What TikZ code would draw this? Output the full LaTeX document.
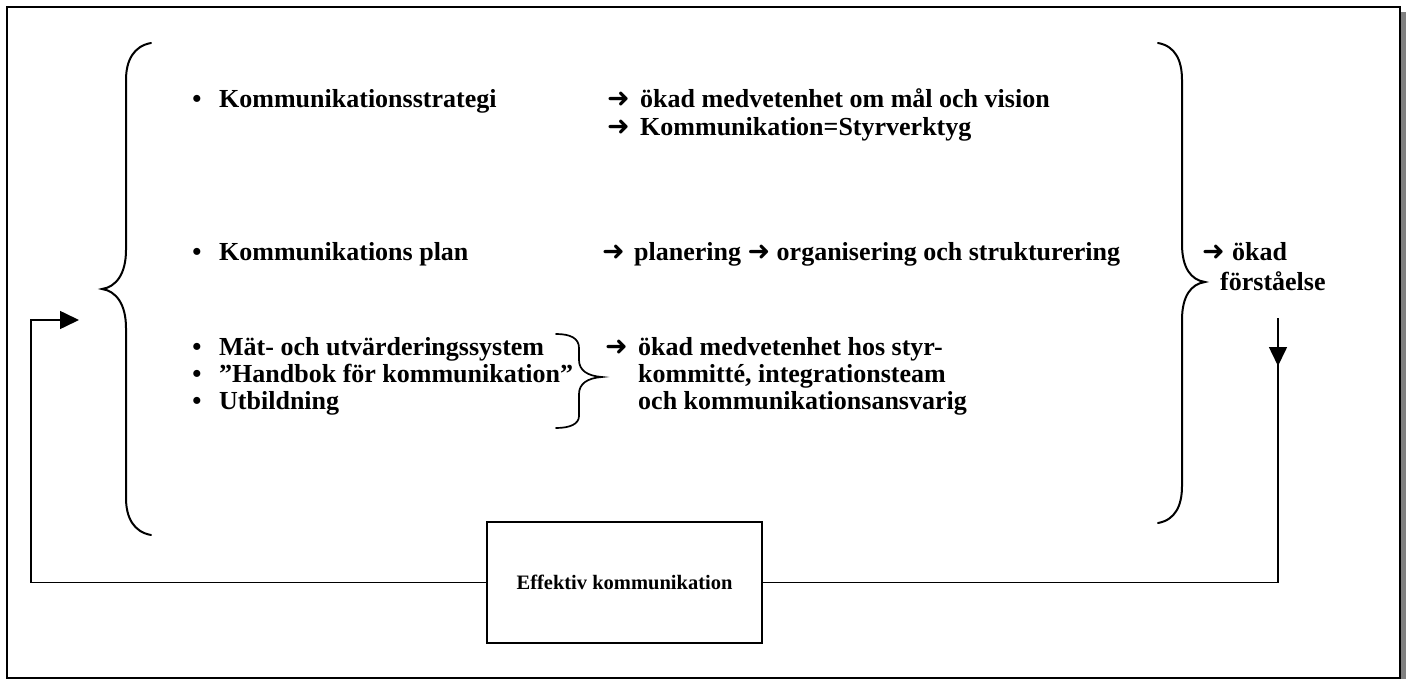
\documentclass[tikz,border=0pt]{standalone}
\usepackage{fontspec}
\setmainfont{Liberation Serif}
\newfontfamily\arrowfont{DejaVu Sans}
\usetikzlibrary{arrows.meta}
\newcommand\rarr{{\arrowfont\fontsize{27}{30}\selectfont ➜}}
\begin{document}
\begin{tikzpicture}[x=1pt,y=-1pt,
  txt/.style={anchor=base west, inner sep=0pt, font=\fontsize{26}{30}\selectfont\bfseries},
  arr/.style={anchor=base west, inner sep=0pt},
  bul/.style={anchor=base, inner sep=0pt, font=\fontsize{26}{30}\selectfont\bfseries},
  brace/.style={line width=2pt, line cap=round},
  conn/.style={line width=1.6pt},
  tip/.style={-{Triangle[length=19pt,width=18pt]}},
  boxstyle/.style={draw, line width=2.4pt, minimum width=275pt, minimum height=121pt,
    inner sep=0pt, font=\fontsize{20.5}{24}\selectfont\bfseries}]
\useasboundingbox (0,0) rectangle (1411,679);
% frame with drop shadow
\fill[black!50] (12,12) rectangle (1406,684);
\draw[line width=2.6pt, fill=white] (7,7) rectangle (1400,678);

% large left brace
\draw[brace] (151,43) .. controls (134,46) and (126,60) .. (126,80)
  -- (126,250) .. controls (126,274) and (116,287) .. (102,289)
  .. controls (116,291) and (126,304) .. (126,328)
  -- (126,498) .. controls (126,518) and (134,532) .. (151,535);
% large right brace
\draw[brace] (1158,43) .. controls (1175,46) and (1182,60) .. (1182,80)
  -- (1182,244) .. controls (1182,268) and (1191,280) .. (1205,282)
  .. controls (1191,284) and (1182,296) .. (1182,320)
  -- (1182,486) .. controls (1182,506) and (1175,520) .. (1158,523);
% small brace grouping the three tools
\draw[brace, line width=1.7pt] (556,334) .. controls (570,334) and (579,338) .. (579,348)
  -- (579,360) .. controls (579,370) and (587,376) .. (602,377)
  .. controls (587,378) and (579,384) .. (579,394)
  -- (579,416) .. controls (579,424) and (570,428) .. (556,428);

% first row
\node[bul] (b1) at (197,108) {•};
\node[txt] (i1) at (219,108) {Kommunikationsstrategi};
\node[arr] (a1a) at (607,108) {\rarr};
\node[txt] (r1a) at (640,108) {ökad medvetenhet om mål och vision};
\node[arr] (a1b) at (607,136) {\rarr};
\node[txt] (r1b) at (640,136) {Kommunikation=Styrverktyg};

% second row
\node[bul] (b2) at (197,261) {•};
\node[txt] (i2) at (219,261) {Kommunikations plan};
\node[arr] (a2) at (602,261) {\rarr};
\node[txt] (r2) at (634,261) {planering \rarr\ organisering och strukturering};

% third row
\node[bul] (b3) at (197,355) {•};
\node[txt] (i3) at (219,355) {Mät- och utvärderingssystem};
\node[bul] (b4) at (197,382) {•};
\node[txt] (i4) at (219,382) {”Handbok för kommunikation”};
\node[bul] (b5) at (197,409) {•};
\node[txt] (i5) at (219,409) {Utbildning};
\node[arr] (a3) at (605,355) {\rarr};
\node[txt] (r3a) at (638,355) {ökad medvetenhet hos styr-};
\node[txt] (r3b) at (638,382) {kommitté, integrationsteam};
\node[txt] (r3c) at (638,409) {och kommunikationsansvarig};

% outcome
\node[arr] (a4) at (1202,261) {\rarr};
\node[txt] (o1) at (1232,261) {ökad};
\node[txt] (o2) at (1220,290) {förståelse};

% feedback loop
\node[boxstyle] (box) at (624.5,582.5) {Effektiv kommunikation};
\coordinate (lcorner) at (31,320);
\coordinate (ltip) at (79,320);
\coordinate (rtop) at (1278,318);
\coordinate (rtip) at (1278,366);
\draw[conn] (box.east) -| (rtop);
\draw[conn, tip] (rtop) -- (rtip);
\draw[conn, tip] (box.west) -| (lcorner) -- (ltip);
\end{tikzpicture}
\end{document}
